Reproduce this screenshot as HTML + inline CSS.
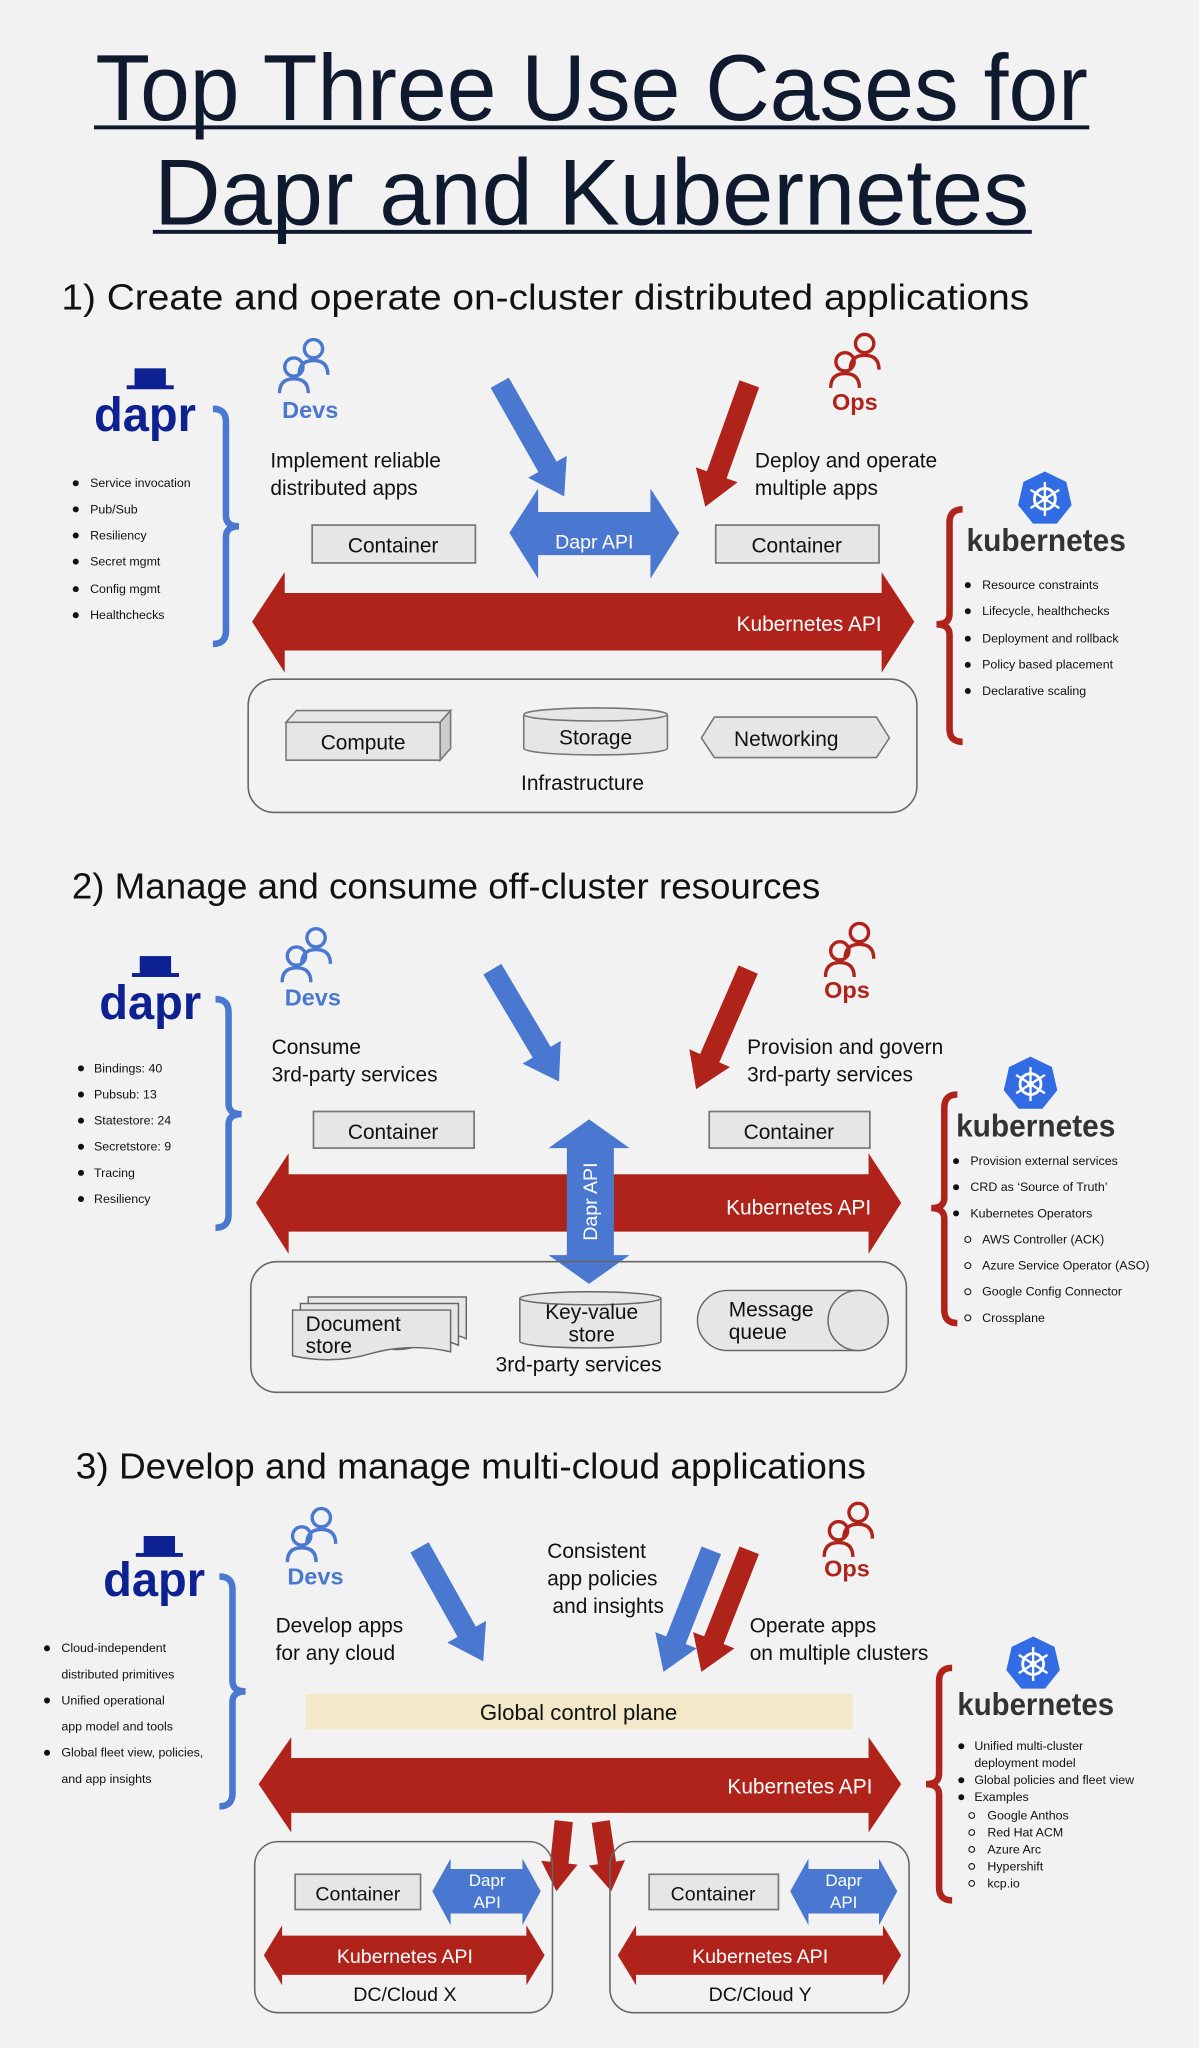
<!DOCTYPE html>
<html><head><meta charset="utf-8"><style>
html,body{margin:0;padding:0;background:#f2f2f2;}
svg{display:block;}
text{font-family:"Liberation Sans",sans-serif;}
</style></head><body>
<svg width="1199" height="2048" viewBox="0 0 918 1568" xmlns="http://www.w3.org/2000/svg">
<defs>
<g id="person" fill="none" stroke-width="2.6">
  <circle cx="28" cy="10" r="7"/>
  <path d="M17,30 Q17,19 28,19 Q39,19 39,30"/>
  <circle cx="13" cy="24" r="7"/>
  <path d="M2,44 Q2,33 13,33 Q24,33 24,44"/>
</g>
<g id="k8s">
  <polygon points="0,-21 16.4,-13.1 20.5,4.7 9.1,18.9 -9.1,18.9 -20.5,4.7 -16.4,-13.1" fill="#326ce5"/>
  <circle r="8" fill="none" stroke="#fff" stroke-width="2.2"/>
  <g stroke="#fff" stroke-width="1.8">
    <line x1="0" y1="-13" x2="0" y2="13"/><line x1="-11" y1="-7" x2="11" y2="7"/><line x1="-11" y1="7" x2="11" y2="-7"/>
  </g>
  <circle r="2.5" fill="#fff"/>
</g>
<polygon id="diag" points="0,0 -26,-17 -26,-8 -100,-8 -100,8 -26,8 -26,17"/>
</defs>
<rect width="918" height="1568" fill="#f2f2f2"/>

<!-- Title -->
<g fill="#0f1a2e">
<text x="453" y="92" font-size="72" text-anchor="middle" textLength="760" lengthAdjust="spacingAndGlyphs">Top Three Use Cases for</text>
<rect x="72" y="96" width="762" height="3"/>
<text x="453" y="172" font-size="72" text-anchor="middle" textLength="670" lengthAdjust="spacingAndGlyphs">Dapr and Kubernetes</text>
<rect x="117" y="176" width="673" height="3"/>
</g>

<!-- ============ Section 1 ============ -->
<text x="47" y="237" font-size="28" fill="#111" textLength="741" lengthAdjust="spacingAndGlyphs">1)   Create and operate on-cluster distributed applications</text>

<g fill="#0d2192"><rect x="103" y="282" width="24" height="14"/><rect x="97" y="295" width="36" height="3"/>
<text x="72" y="330" font-size="37" font-weight="bold" textLength="78" lengthAdjust="spacingAndGlyphs">dapr</text></g>
<path d="M163,313 Q173,313 173,323 L173,395 Q173,403 183,403 Q173,403 173,411 L173,483 Q173,493 163,493" fill="none" stroke="#4a78d0" stroke-width="5"/>
<g font-size="9.5" fill="#111">
<circle cx="58" cy="370" r="2.3"/><text x="69" y="373">Service invocation</text>
<circle cx="58" cy="390" r="2.3"/><text x="69" y="393">Pub/Sub</text>
<circle cx="58" cy="410" r="2.3"/><text x="69" y="413">Resiliency</text>
<circle cx="58" cy="430" r="2.3"/><text x="69" y="433">Secret mgmt</text>
<circle cx="58" cy="451" r="2.3"/><text x="69" y="454">Config mgmt</text>
<circle cx="58" cy="471" r="2.3"/><text x="69" y="474">Healthchecks</text>
</g>

<use href="#person" x="212" y="257" stroke="#4a78d0"/>
<text x="216" y="320" font-size="18" font-weight="bold" fill="#4a78d0">Devs</text>
<g font-size="16" fill="#111"><text x="207" y="358">Implement reliable</text><text x="207" y="379">distributed apps</text>
<text x="578" y="358">Deploy and operate</text><text x="578" y="379">multiple apps</text></g>
<use href="#person" x="634" y="253" stroke="#b0231b"/>
<text x="637" y="314" font-size="18" font-weight="bold" fill="#b0231b">Ops</text>

<use href="#diag" transform="translate(432,380) rotate(60.4)" fill="#4a78d0"/>
<use href="#diag" transform="translate(540,388) rotate(109.7)" fill="#b0231b"/>

<g fill="#e6e6e6" stroke="#777" stroke-width="1.3">
<rect x="239" y="402" width="125" height="29"/><rect x="548" y="402" width="125" height="29"/></g>
<g font-size="16" fill="#111" text-anchor="middle"><text x="301" y="423">Container</text><text x="610" y="423">Container</text></g>

<polygon points="390,408 412,374 412,392 498,392 498,374 520,408 498,443 498,425 412,425 412,443" fill="#4a78d0"/>
<text x="455" y="420" font-size="15" fill="#fff" text-anchor="middle">Dapr API</text>

<polygon points="193,476 218,438 218,454 675,454 675,438 700,476 675,515 675,498 218,498 218,515" fill="#b0231b"/>
<text x="675" y="483" font-size="16" fill="#fff" text-anchor="end">Kubernetes API</text>

<rect x="190" y="520" width="512" height="102" rx="20" fill="none" stroke="#666" stroke-width="1.2"/>
<g fill="#e6e6e6" stroke="#777" stroke-width="1.2">
<polygon points="219,553 227,544 345,544 337,553"/><polygon points="337,553 345,544 345,573 337,582" fill="#ccc"/>
<rect x="219" y="553" width="118" height="29"/>
<path d="M401,547 V573 A55,5 0 0 0 511,573 V547"/><ellipse cx="456" cy="547" rx="55" ry="5"/>
<polygon points="537,565 547,549 671,549 681,565 671,580 547,580"/>
</g>
<g font-size="16" fill="#111" text-anchor="middle"><text x="278" y="574">Compute</text><text x="456" y="570">Storage</text><text x="602" y="571">Networking</text><text x="446" y="605">Infrastructure</text></g>

<use href="#k8s" x="800" y="382"/>
<text x="740" y="422" font-size="24" font-weight="bold" fill="#333" textLength="122" lengthAdjust="spacingAndGlyphs">kubernetes</text>
<path d="M737,390 Q727,390 727,400 L727,470 Q727,478 717,478 Q727,478 727,486 L727,558 Q727,568 737,568" fill="none" stroke="#b0231b" stroke-width="5"/>
<g font-size="9.5" fill="#111">
<circle cx="741" cy="448" r="2.3"/><text x="752" y="451">Resource constraints</text>
<circle cx="741" cy="468" r="2.3"/><text x="752" y="471">Lifecycle, healthchecks</text>
<circle cx="741" cy="489" r="2.3"/><text x="752" y="492">Deployment and rollback</text>
<circle cx="741" cy="509" r="2.3"/><text x="752" y="512">Policy based placement</text>
<circle cx="741" cy="529" r="2.3"/><text x="752" y="532">Declarative scaling</text>
</g>

<!-- ============ Section 2 ============ -->
<text x="55" y="688" font-size="28" fill="#111" textLength="573" lengthAdjust="spacingAndGlyphs">2) Manage and consume off-cluster resources</text>
<g fill="#0d2192"><rect x="107" y="732" width="24" height="14"/><rect x="101" y="745" width="36" height="3"/>
<text x="76" y="780" font-size="37" font-weight="bold" textLength="78" lengthAdjust="spacingAndGlyphs">dapr</text></g>
<path d="M165,765 Q175,765 175,775 L175,845 Q175,853 185,853 Q175,853 175,861 L175,930 Q175,940 165,940" fill="none" stroke="#4a78d0" stroke-width="5"/>
<g font-size="9.5" fill="#111">
<circle cx="62" cy="818" r="2.3"/><text x="72" y="821">Bindings: 40</text>
<circle cx="62" cy="838" r="2.3"/><text x="72" y="841">Pubsub: 13</text>
<circle cx="62" cy="858" r="2.3"/><text x="72" y="861">Statestore: 24</text>
<circle cx="62" cy="878" r="2.3"/><text x="72" y="881">Secretstore: 9</text>
<circle cx="62" cy="898" r="2.3"/><text x="72" y="901">Tracing</text>
<circle cx="62" cy="918" r="2.3"/><text x="72" y="921">Resiliency</text>
</g>
<use href="#person" x="214" y="708" stroke="#4a78d0"/>
<text x="218" y="770" font-size="18" font-weight="bold" fill="#4a78d0">Devs</text>
<g font-size="16" fill="#111"><text x="208" y="807">Consume</text><text x="208" y="828">3rd-party services</text>
<text x="572" y="807">Provision and govern</text><text x="572" y="828">3rd-party services</text></g>
<use href="#person" x="630" y="704" stroke="#b0231b"/>
<text x="631" y="764" font-size="18" font-weight="bold" fill="#b0231b">Ops</text>
<use href="#diag" transform="translate(428,828) rotate(59.3)" fill="#4a78d0"/>
<use href="#diag" transform="translate(533,834) rotate(113.5)" fill="#b0231b"/>
<g fill="#e6e6e6" stroke="#777" stroke-width="1.3">
<rect x="240" y="851" width="123" height="28"/><rect x="543" y="851" width="123" height="28"/></g>
<g font-size="16" fill="#111" text-anchor="middle"><text x="301" y="872">Container</text><text x="604" y="872">Container</text></g>
<polygon points="196,921 221,883 221,899 665,899 665,883 690,921 665,960 665,943 221,943 221,960" fill="#b0231b"/>
<text x="667" y="930" font-size="16" fill="#fff" text-anchor="end">Kubernetes API</text>
<polygon points="451,857 482,879 470,879 470,961 482,961 451,983 420,961 434,961 434,879 420,879" fill="#4a78d0"/>
<text transform="translate(457,920) rotate(-90)" font-size="15" fill="#fff" text-anchor="middle">Dapr API</text>

<rect x="192" y="966" width="502" height="100" rx="20" fill="none" stroke="#666" stroke-width="1.2"/>
<g fill="#e6e6e6" stroke="#666" stroke-width="1.1">
<path d="M236,993 H357 V1025 Q342,1018 327,1025 Q312,1031 296,1026 L236,1026 Z"/>
<path d="M230,998 H351 V1030 Q336,1023 321,1030 Q306,1036 290,1031 L230,1031 Z"/>
<path d="M224,1003 H345 V1035 Q315,1028 285,1036 Q255,1045 224,1038 Z"/>
<path d="M398,994 V1027 A54,5 0 0 0 506,1027 V994"/><ellipse cx="452" cy="994" rx="54" ry="5"/>
<path d="M557,988 H657 A23,23 0 0 1 657,1034 H557 A23,23 0 0 1 557,988 Z"/><circle cx="657" cy="1011" r="23"/>
</g>
<g font-size="16" fill="#111"><text x="234" y="1019">Document</text><text x="234" y="1036">store</text>
<text x="558" y="1008">Message</text><text x="558" y="1025">queue</text>
<text x="453" y="1010" text-anchor="middle">Key-value</text><text x="453" y="1027" text-anchor="middle">store</text>
<text x="443" y="1050" text-anchor="middle">3rd-party services</text></g>

<use href="#k8s" x="789" y="830"/>
<text x="732" y="870" font-size="24" font-weight="bold" fill="#333" textLength="122" lengthAdjust="spacingAndGlyphs">kubernetes</text>
<path d="M733,838 Q723,838 723,848 L723,917 Q723,925 713,925 Q723,925 723,933 L723,1003 Q723,1013 733,1013" fill="none" stroke="#b0231b" stroke-width="5"/>
<g font-size="9.5" fill="#111">
<circle cx="732" cy="889" r="2.3"/><text x="743" y="892">Provision external services</text>
<circle cx="732" cy="909" r="2.3"/><text x="743" y="912">CRD as ‘Source of Truth’</text>
<circle cx="732" cy="929" r="2.3"/><text x="743" y="932">Kubernetes Operators</text>
<g fill="none" stroke="#111" stroke-width="0.8"><circle cx="741" cy="949" r="2.3"/><circle cx="741" cy="969" r="2.3"/><circle cx="741" cy="989" r="2.3"/><circle cx="741" cy="1009" r="2.3"/></g>
<text x="752" y="952">AWS Controller (ACK)</text>
<text x="752" y="972">Azure Service Operator (ASO)</text>
<text x="752" y="992">Google Config Connector</text>
<text x="752" y="1012">Crossplane</text>
</g>

<!-- ============ Section 3 ============ -->
<text x="58" y="1132" font-size="28" fill="#111" textLength="605" lengthAdjust="spacingAndGlyphs">3) Develop and manage multi-cloud applications</text>
<g fill="#0d2192"><rect x="110" y="1176" width="24" height="14"/><rect x="104" y="1189" width="36" height="3"/>
<text x="79" y="1222" font-size="37" font-weight="bold" textLength="78" lengthAdjust="spacingAndGlyphs">dapr</text></g>
<path d="M168,1207 Q178,1207 178,1217 L178,1287 Q178,1295 188,1295 Q178,1295 178,1303 L178,1373 Q178,1383 168,1383" fill="none" stroke="#4a78d0" stroke-width="5"/>
<g font-size="9.5" fill="#111">
<circle cx="36" cy="1262" r="2.3"/><text x="47" y="1265">Cloud-independent</text>
<text x="47" y="1285">distributed primitives</text>
<circle cx="36" cy="1302" r="2.3"/><text x="47" y="1305">Unified operational</text>
<text x="47" y="1325">app model and tools</text>
<circle cx="36" cy="1342" r="2.3"/><text x="47" y="1345">Global fleet view, policies,</text>
<text x="47" y="1365">and app insights</text>
</g>
<use href="#person" x="218" y="1152" stroke="#4a78d0"/>
<text x="220" y="1213" font-size="18" font-weight="bold" fill="#4a78d0">Devs</text>
<g font-size="16" fill="#111"><text x="211" y="1250">Develop apps</text><text x="211" y="1271">for any cloud</text>
<text x="419" y="1193">Consistent</text><text x="419" y="1214">app policies</text><text x="423" y="1235">and insights</text>
<text x="574" y="1250">Operate apps</text><text x="574" y="1271">on multiple clusters</text></g>
<use href="#person" x="629" y="1148" stroke="#b0231b"/>
<text x="631" y="1207" font-size="18" font-weight="bold" fill="#b0231b">Ops</text>
<use href="#diag" transform="translate(370,1272) rotate(60.8)" fill="#4a78d0"/>
<use href="#diag" transform="translate(508,1280) rotate(111.5)" fill="#4a78d0"/>
<use href="#diag" transform="translate(537,1280) rotate(111.5)" fill="#b0231b"/>

<rect x="234" y="1297" width="419" height="27" fill="#f3e9c8"/>
<text x="443" y="1317" font-size="17" fill="#111" text-anchor="middle">Global control plane</text>
<polygon points="198,1366 223,1330 223,1346 665,1346 665,1330 690,1366 665,1403 665,1388 223,1388 223,1403" fill="#b0231b"/>
<text x="668" y="1373" font-size="16" fill="#fff" text-anchor="end">Kubernetes API</text>

<g fill="#b0231b">
<polygon points="0,0 -22,-14 -22,-7 -54,-7 -54,7 -22,7 -22,14" transform="translate(426,1448) rotate(96)"/>
<polygon points="0,0 -22,-14 -22,-7 -54,-7 -54,7 -22,7 -22,14" transform="translate(468,1448) rotate(81.4)"/>
</g>

<g fill="none" stroke="#666" stroke-width="1.2">
<rect x="195" y="1410" width="228" height="131" rx="18"/><rect x="467" y="1410" width="229" height="131" rx="18"/></g>
<g fill="#e6e6e6" stroke="#777" stroke-width="1.3">
<rect x="226" y="1435" width="96" height="27"/><rect x="497" y="1435" width="99" height="27"/></g>
<g font-size="15" fill="#111" text-anchor="middle"><text x="274" y="1455">Container</text><text x="546" y="1455">Container</text></g>
<g fill="#4a78d0">
<polygon points="331,1448 345,1423 345,1431 400,1431 400,1423 414,1448 400,1474 400,1465 345,1465 345,1474"/>
<polygon points="605,1448 619,1423 619,1431 673,1431 673,1423 687,1448 673,1474 673,1465 619,1465 619,1474"/>
</g>
<g font-size="13" fill="#fff" text-anchor="middle"><text x="373" y="1444">Dapr</text><text x="373" y="1461">API</text><text x="646" y="1444">Dapr</text><text x="646" y="1461">API</text></g>
<g fill="#b0231b">
<polygon points="202,1497 216,1474 216,1482 403,1482 403,1474 417,1497 403,1520 403,1512 216,1512 216,1520"/>
<polygon points="473,1497 487,1474 487,1482 676,1482 676,1474 690,1497 676,1520 676,1512 487,1512 487,1520"/>
</g>
<g font-size="15" text-anchor="middle"><text x="310" y="1503" fill="#fff">Kubernetes API</text><text x="582" y="1503" fill="#fff">Kubernetes API</text>
<text x="310" y="1532" fill="#111">DC/Cloud X</text><text x="582" y="1532" fill="#111">DC/Cloud Y</text></g>

<use href="#k8s" x="791" y="1274"/>
<text x="733" y="1313" font-size="24" font-weight="bold" fill="#333" textLength="120" lengthAdjust="spacingAndGlyphs">kubernetes</text>
<path d="M729,1277 Q719,1277 719,1287 L719,1358 Q719,1366 709,1366 Q719,1366 719,1374 L719,1445 Q719,1455 729,1455" fill="none" stroke="#b0231b" stroke-width="5"/>
<g font-size="9.5" fill="#111">
<circle cx="736" cy="1337" r="2.3"/><text x="746" y="1340">Unified multi-cluster</text>
<text x="746" y="1353">deployment model</text>
<circle cx="736" cy="1363" r="2.3"/><text x="746" y="1366">Global policies and fleet view</text>
<circle cx="736" cy="1376" r="2.3"/><text x="746" y="1379">Examples</text>
<g fill="none" stroke="#111" stroke-width="0.8"><circle cx="744" cy="1390" r="2.2"/><circle cx="744" cy="1403" r="2.2"/><circle cx="744" cy="1416" r="2.2"/><circle cx="744" cy="1429" r="2.2"/><circle cx="744" cy="1442" r="2.2"/></g>
<text x="756" y="1393">Google Anthos</text>
<text x="756" y="1406">Red Hat ACM</text>
<text x="756" y="1419">Azure Arc</text>
<text x="756" y="1432">Hypershift</text>
<text x="756" y="1445">kcp.io</text>
</g>
</svg>
</body></html>
